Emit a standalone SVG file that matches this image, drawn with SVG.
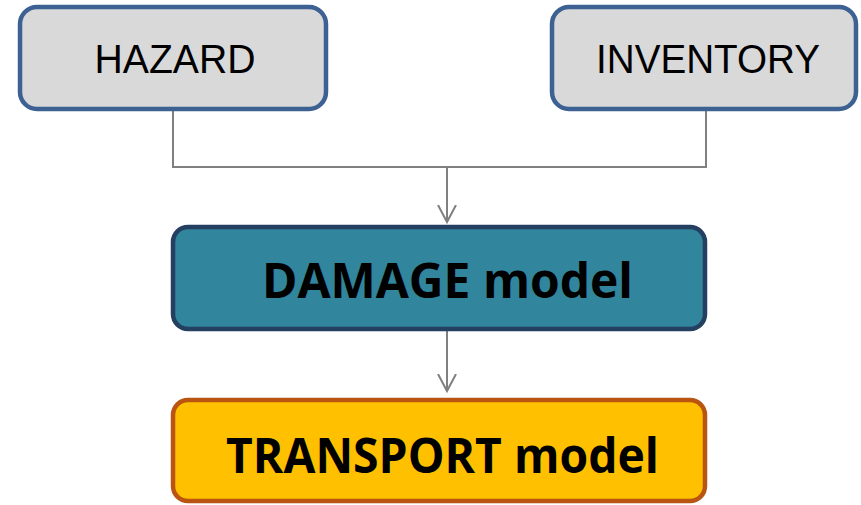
<svg xmlns="http://www.w3.org/2000/svg" width="861" height="505" viewBox="0 0 861 505">
<style>
.conn{fill:none;stroke:#808080;stroke-width:2}
.gray{fill:#D9D9D9;stroke:#3C6192;stroke-width:4.5}
.lbl{font-family:"Liberation Sans",Arial,sans-serif;fill:#000;text-anchor:middle}
.big{font-family:"Open Sans","Liberation Sans",sans-serif;font-weight:bold;fill:#000;text-anchor:middle}
</style>
<defs>
<marker id="arr" markerWidth="20" markerHeight="20" refX="17" refY="10" orient="auto" markerUnits="userSpaceOnUse" viewBox="0 0 20 20">
<path d="M0,1 L17,10 L0,19" fill="none" stroke="#808080" stroke-width="2"/>
</marker>
</defs>
<rect width="861" height="505" fill="#fff"/>
<g id="connectors">
<path class="conn" d="M173,111 V167 H706 V111"/>
<path class="conn" d="M447,167 V222" marker-end="url(#arr)"/>
<path class="conn" d="M447,331 V391" marker-end="url(#arr)"/>
</g>
<g id="hazard">
<rect class="gray" x="20" y="7" width="306" height="102" rx="17"/>
<text class="lbl" x="175" y="73" font-size="41" textLength="161" lengthAdjust="spacingAndGlyphs">HAZARD</text>
</g>
<g id="inventory">
<rect class="gray" x="552" y="7" width="304" height="102" rx="17"/>
<text class="lbl" x="708" y="73" font-size="41" textLength="224" lengthAdjust="spacingAndGlyphs">INVENTORY</text>
</g>
<g id="damage">
<rect x="173" y="227" width="532" height="102" rx="15" fill="#31859C" stroke="#243F60" stroke-width="4.5"/>
<text class="big" x="447.5" y="298" font-size="48" textLength="371" lengthAdjust="spacingAndGlyphs">DAMAGE model</text>
</g>
<g id="transport">
<rect x="173" y="400" width="532" height="101" rx="15" fill="#FFC000" stroke="#BA5511" stroke-width="4.5"/>
<text class="big" x="442.5" y="473" font-size="48" textLength="433" lengthAdjust="spacingAndGlyphs">TRANSPORT model</text>
</g>
</svg>
